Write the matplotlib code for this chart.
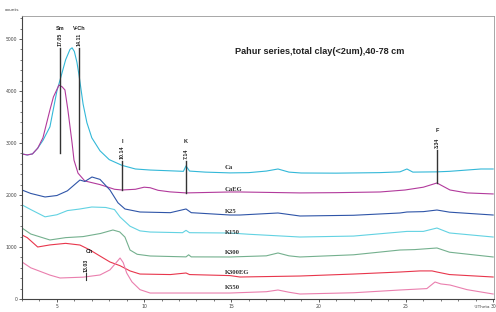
import matplotlib
matplotlib.use("Agg")
import matplotlib.pyplot as plt
from matplotlib.ticker import MultipleLocator

# ---- data (2theta in degrees, intensity in counts) ----
ca_x = [3.0, 3.3, 3.6, 3.9, 4.2, 4.6, 5.0, 5.18, 5.5, 5.75, 5.87, 6.0, 6.15, 6.27, 6.5, 6.72, 7.0, 7.47, 8.0, 8.73, 9.5, 10.34, 11.5, 12.25, 12.4, 12.6, 13.5, 14.92, 16.0, 17.0, 17.67, 18.3, 19.0, 21.0, 23.5, 24.66, 25.06, 25.4, 26.78, 27.5, 28.5, 29.3, 30.0]
ca_y = [2790, 2770, 2790, 2900, 3050, 3310, 4000, 4210, 4600, 4800, 4830, 4760, 4550, 4300, 3750, 3390, 3100, 2850, 2680, 2570, 2500, 2480, 2465, 2455, 2560, 2460, 2440, 2425, 2430, 2460, 2500, 2440, 2423, 2420, 2430, 2445, 2500, 2440, 2445, 2455, 2480, 2500, 2500]

caeg_x = [3.0, 3.3, 3.6, 3.9, 4.2, 4.6, 4.8, 5.12, 5.3, 5.46, 5.63, 5.87, 5.98, 6.21, 6.6, 7.47, 8.3, 8.73, 9.5, 10.0, 10.34, 10.8, 11.48, 12.4, 14.92, 15.49, 18.93, 21.0, 23.52, 24.95, 26.0, 26.78, 27.53, 28.5, 30.0]
caeg_y = [2790, 2770, 2790, 2900, 3100, 3635, 3885, 4115, 4080, 4020, 3635, 3000, 2670, 2420, 2270, 2200, 2110, 2096, 2110, 2150, 2140, 2090, 2060, 2040, 2058, 2058, 2040, 2045, 2058, 2096, 2150, 2231, 2096, 2040, 2020]

k25_x = [3.0, 3.5, 4.32, 5.0, 5.6, 6.32, 6.6, 7.01, 7.47, 8.04, 8.5, 8.9, 9.76, 11.5, 12.4, 12.7, 14.92, 15.49, 17.67, 18.93, 22.0, 24.66, 25.06, 26.0, 26.78, 27.5, 30.0]
k25_y = [2096, 2030, 1962, 1990, 2080, 2288, 2260, 2346, 2300, 2096, 1850, 1731, 1673, 1660, 1731, 1660, 1615, 1615, 1654, 1596, 1610, 1654, 1673, 1680, 1711, 1670, 1615]

k150_x = [3.0, 3.5, 4.32, 5.0, 5.6, 6.3, 7.0, 7.8, 8.3, 8.62, 9.19, 9.76, 10.34, 12.2, 12.4, 12.6, 14.92, 16.0, 18.93, 22.0, 24.66, 25.06, 26.0, 26.78, 27.5, 30.0]
k150_y = [1810, 1720, 1580, 1620, 1700, 1730, 1769, 1760, 1720, 1577, 1400, 1310, 1288, 1275, 1320, 1275, 1269, 1245, 1192, 1210, 1288, 1300, 1300, 1365, 1270, 1192]

k300_x = [3.0, 3.5, 4.6, 5.5, 6.5, 7.5, 8.21, 8.6, 8.9, 9.19, 9.6, 10.34, 12.4, 12.55, 12.7, 14.92, 17.0, 17.67, 18.3, 18.93, 22.0, 24.66, 25.5, 26.78, 27.5, 30.0]
k300_y = [1365, 1250, 1135, 1180, 1200, 1260, 1327, 1290, 1190, 942, 860, 827, 810, 850, 810, 808, 830, 885, 830, 808, 850, 942, 950, 981, 900, 808]

k300eg_x = [3.0, 3.3, 3.9, 4.6, 5.5, 6.32, 6.9, 7.5, 8.04, 8.62, 9.19, 9.76, 11.5, 12.4, 12.6, 14.92, 15.49, 18.93, 22.0, 24.66, 25.81, 26.5, 26.78, 27.5, 30.0]
k300eg_y = [1231, 1180, 1000, 1040, 1070, 1038, 942, 820, 712, 640, 540, 480, 470, 500, 470, 450, 423, 442, 480, 519, 540, 540, 519, 470, 423]

k550_x = [3.0, 3.5, 4.6, 5.18, 6.5, 7.47, 8.04, 8.4, 8.62, 8.8, 9.0, 9.3, 9.76, 10.34, 14.92, 17.0, 17.67, 18.3, 18.93, 22.0, 24.66, 26.2, 26.67, 27.0, 27.53, 28.5, 30.0]
k550_y = [712, 600, 460, 404, 420, 462, 560, 700, 788, 700, 500, 330, 180, 115, 115, 140, 173, 130, 96, 120, 173, 200, 327, 290, 269, 180, 96]

series_names = ["Ca", "CaEG", "K25", "K150", "K300", "K300EG", "K550"]
label_y = [2538, 2115, 1692, 1288, 885, 519, 212]

# peak markers
peak_pos = [5.18, 6.27, 8.73, 12.40, 26.78]
peak_d = ["17.05", "14.11", "10.14", "7.14", "3.34"]
peak_name = ["Sm", "V-Ch", "I", "K", "F"]
peak_top = [4830, 4830, 2660, 2660, 2870]
peak_bot = [2800, 2500, 2100, 2040, 2231]

ch_pos = 6.78
ch_d = "13.03"

# ---- figure ----
fig = plt.figure(figsize=(4.96, 3.12), dpi=100)
ax = fig.add_axes([22/496, 1-299/312, (494-22)/496, (299-16)/312])

colors = ["#33b8d8", "#b23a9c", "#2f55a8", "#62d2e2", "#74b08e", "#e8364c", "#ea7fae"]
xs = [ca_x, caeg_x, k25_x, k150_x, k300_x, k300eg_x, k550_x]
ys = [ca_y, caeg_y, k25_y, k150_y, k300_y, k300eg_y, k550_y]
for x, y, c in zip(xs, ys, colors):
    ax.plot(x, y, color=c, lw=0.8)

for name, yy in zip(series_names, label_y):
    ax.text(14.63, yy, name, fontsize=4.8, fontweight="bold", family="Liberation Serif",
            color="#333333", ha="left", va="center")

for p, d, n, top, bot in zip(peak_pos, peak_d, peak_name, peak_top, peak_bot):
    ax.plot([p, p], [bot, top], color="#333333", lw=1.0)
    ax.text(p, top + 30, d, rotation=90, fontsize=3.8, fontweight="bold",
            family="Liberation Sans", ha="center", va="bottom", color="#222222")
    ax.text(p, top + 330, n, fontsize=4.0, fontweight="bold",
            family="Liberation Sans", ha="center", va="bottom", color="#222222")

ax.plot([ch_pos - 0.1, ch_pos - 0.1], [360, 500], color="#333333", lw=0.8)
ax.text(ch_pos - 0.1, 520, ch_d, rotation=90, fontsize=3.8, fontweight="bold",
        family="Liberation Sans", ha="center", va="bottom", color="#222222")
ax.text(ch_pos + 0.1, 860, "Ch", fontsize=4.0, fontweight="bold",
        family="Liberation Sans", ha="center", va="bottom", color="#222222")

ax.text(235/496, 1-51/312, "Pahur series,total clay(<2um),40-78 cm", transform=fig.transFigure,
        fontsize=6.6, fontweight="bold", family="Liberation Sans", ha="left", va="center",
        color="#222222")

ax.set_xlim(3, 30.05)
ax.set_ylim(0, 5442)
ax.xaxis.set_major_locator(MultipleLocator(5))
ax.xaxis.set_minor_locator(MultipleLocator(1))
ax.yaxis.set_major_locator(MultipleLocator(1000))
ax.yaxis.set_minor_locator(MultipleLocator(200))
ax.tick_params(axis="both", which="major", labelsize=3.3, length=2.5, width=0.6,
               colors="#444444", pad=1)
ax.tick_params(axis="both", which="minor", length=1.5, width=0.5, colors="#444444")
for s in ["left", "bottom"]:
    ax.spines[s].set_color("#444444")
    ax.spines[s].set_linewidth(0.8)
for s in ["top", "right"]:
    ax.spines[s].set_color("#999999")
    ax.spines[s].set_linewidth(0.6)

fig.text(5/496, 1-10/312, "counts", fontsize=3.2, color="#444444", ha="left", va="center")
fig.text(482/496, 1-307/312, "°2Theta", fontsize=3.0, color="#444444", ha="center", va="center")

fig.savefig("out.png", dpi=100)
